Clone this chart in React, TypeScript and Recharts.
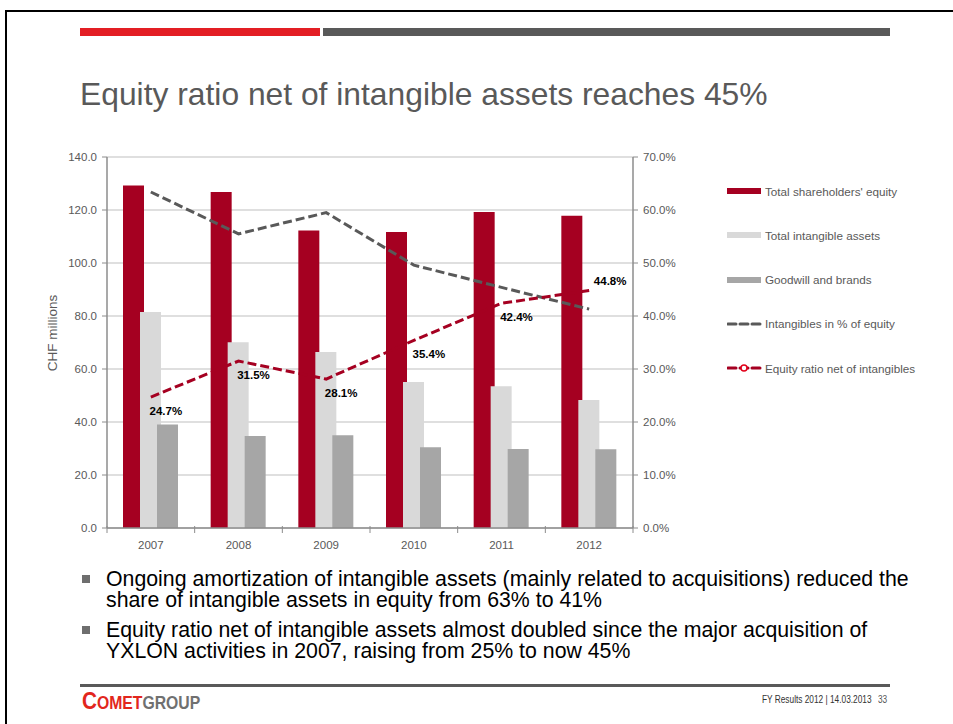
import React from "react"
import { ComposedChart, Bar, Line, XAxis, YAxis, CartesianGrid, LabelList } from "recharts"

const years = ["2007", "2008", "2009", "2010", "2011", "2012"]
const equity = [129.2, 126.8, 112.3, 111.7, 119.2, 117.8]
const intangibles = [81.5, 70.1, 66.4, 55.1, 53.5, 48.3]
const goodwill = [39.1, 34.7, 35.0, 30.5, 29.8, 29.7]
const intangPct = [63.4, 55.5, 59.5, 49.6, 45.4, 41.3]
const eqRatioNet = [24.7, 31.5, 28.1, 35.4, 42.4, 44.8]

const leftTicks = [0, 20, 40, 60, 80, 100, 120, 140]
const rightTicks = [0, 10, 20, 30, 40, 50, 60, 70]

const data = years.map((y, i) => ({
  year: y,
  equity: equity[i],
  intangibles: intangibles[i],
  goodwill: goodwill[i],
  intangPct: intangPct[i],
  eqRatioNet: eqRatioNet[i],
}))

const RED = "#A50021"
const LIGHT = "#D9D9D9"
const MID = "#A6A6A6"
const DARK = "#595959"
const AXIS = "#8C8C8C"
const FONT = "Arial, 'Liberation Sans', sans-serif"

function YearTick(props: any) {
  const { x, y, payload, index, visibleTicksCount, width } = props
  const half = payload.offset ?? width / visibleTicksCount / 2
  const axisY = y - 13
  return (
    <g>
      <line x1={x - half} x2={x - half} y1={axisY - 2} y2={axisY + 5} stroke={AXIS} />
      {index === visibleTicksCount - 1 && (
        <line x1={x + half} x2={x + half} y1={axisY - 2} y2={axisY + 5} stroke={AXIS} />
      )}
      <text x={x} y={y} dy="0.71em" textAnchor="middle" fill={DARK} fontSize={11.5} fontFamily={FONT}>
        {payload.value}
      </text>
    </g>
  )
}

function RatioLabel(props: any) {
  const { x, y, value, index } = props
  const last = index === years.length - 1
  return (
    <text
      x={x + (last ? 21 : 15)}
      y={y + (last ? -6 : 18)}
      textAnchor="middle"
      fontSize={11.5}
      fontWeight="bold"
      fontFamily={FONT}
      fill="#000"
    >
      {value.toFixed(1)}%
    </text>
  )
}

const legendItems = [
  { label: "Total shareholders' equity", kind: "bar", color: RED },
  { label: "Total intangible assets", kind: "bar", color: LIGHT },
  { label: "Goodwill and brands", kind: "bar", color: MID },
  { label: "Intangibles in % of equity", kind: "line", color: DARK },
  { label: "Equity ratio net of intangibles", kind: "marker", color: RED },
]

function LegendIcon({ kind, color }: { kind: string; color: string }) {
  return (
    <svg width={36} height={10} style={{ display: "block" }}>
      {kind === "bar" && <rect x={0} y={2} width={34} height={6} fill={color} />}
      {kind !== "bar" && (
        <line x1={1} x2={35} y1={5} y2={5} stroke={color} strokeWidth={3} strokeDasharray="8 4" strokeLinecap="round" />
      )}
      {kind === "marker" && <circle cx={17} cy={5} r={3} fill="#fff" stroke="#E2001A" strokeWidth={1.5} />}
    </svg>
  )
}

export default function App() {
  return (
    <div
      style={{
        position: "absolute",
        left: 0,
        top: 0,
        width: 953,
        height: 724,
        background: "#fff",
        overflow: "hidden",
        fontFamily: FONT,
      }}
    >
      <div
        style={{
          position: "absolute",
          left: 5,
          top: 10,
          width: 1000,
          height: 800,
          borderLeft: "2px solid #000",
          borderTop: "2px solid #000",
        }}
      />
      <div style={{ position: "absolute", left: 80, top: 28, width: 240, height: 8, background: "#E31E24" }} />
      <div style={{ position: "absolute", left: 323, top: 28, width: 567, height: 8, background: DARK }} />
      <div
        style={{
          position: "absolute",
          left: 80,
          top: 78,
          fontSize: 31.8,
          lineHeight: "32px",
          color: DARK,
          whiteSpace: "nowrap",
        }}
      >
        Equity ratio net of intangible assets reaches 45%
      </div>

      <div style={{ position: "absolute", left: 0, top: 0 }}>
        <ComposedChart
          width={953}
          height={724}
          data={data}
          margin={{ top: 157, right: 260, bottom: 166, left: 47 }}
          barSize={21}
          barGap={-4}
        >
          <CartesianGrid yAxisId="left" vertical={false} stroke="#BFBFBF" />
          <XAxis
            dataKey="year"
            height={30}
            interval={0}
            tickLine={false}
            tickSize={0}
            tickMargin={13}
            axisLine={{ stroke: AXIS, strokeWidth: 1.5 }}
            tick={<YearTick />}
          />
          <YAxis
            yAxisId="left"
            width={60}
            domain={[0, 140]}
            ticks={leftTicks}
            tickFormatter={(v: number) => v.toFixed(1)}
            tick={{ fill: DARK, fontSize: 11.5, fontFamily: FONT }}
            tickSize={5}
            tickMargin={5}
            axisLine={{ stroke: AXIS, strokeWidth: 1.5 }}
            tickLine={{ stroke: AXIS }}
          />
          <YAxis
            yAxisId="right"
            orientation="right"
            width={60}
            domain={[0, 70]}
            ticks={rightTicks}
            tickFormatter={(v: number) => v.toFixed(1) + "%"}
            tick={{ fill: DARK, fontSize: 11.5, fontFamily: FONT, textAnchor: "start" }}
            tickSize={5}
            tickMargin={5}
            axisLine={{ stroke: AXIS, strokeWidth: 1.5 }}
            tickLine={{ stroke: AXIS }}
          />
          <Bar yAxisId="left" dataKey="equity" fill={RED} isAnimationActive={false} />
          <Bar yAxisId="left" dataKey="intangibles" fill={LIGHT} isAnimationActive={false} />
          <Bar yAxisId="left" dataKey="goodwill" fill={MID} isAnimationActive={false} />
          <Line
            yAxisId="right"
            type="linear"
            dataKey="intangPct"
            stroke={DARK}
            strokeWidth={3}
            strokeDasharray="9 4"
            dot={false}
            activeDot={false}
            isAnimationActive={false}
          />
          <Line
            yAxisId="right"
            type="linear"
            dataKey="eqRatioNet"
            stroke={RED}
            strokeWidth={3}
            strokeDasharray="9 4"
            dot={false}
            activeDot={false}
            isAnimationActive={false}
          >
            <LabelList dataKey="eqRatioNet" content={<RatioLabel />} />
          </Line>
        </ComposedChart>
      </div>

      <div
        style={{
          position: "absolute",
          left: 52,
          top: 333,
          transform: "translate(-50%, -50%) rotate(-90deg)",
          fontSize: 13.5,
          color: DARK,
          whiteSpace: "nowrap",
        }}
      >
        CHF millions
      </div>

      {legendItems.map((it, i) => (
        <div
          key={it.label}
          style={{
            position: "absolute",
            left: 727,
            top: 191 + i * 44.3 - 7,
            height: 14,
            display: "flex",
            alignItems: "center",
            fontSize: 11.7,
            color: DARK,
            whiteSpace: "nowrap",
          }}
        >
          <LegendIcon kind={it.kind} color={it.color} />
          <span style={{ marginLeft: 2 }}>{it.label}</span>
        </div>
      ))}

      <div style={{ position: "absolute", left: 82, top: 575, width: 8, height: 8, background: "#6E6E6E" }} />
      <div style={{ position: "absolute", left: 82, top: 626, width: 8, height: 8, background: "#6E6E6E" }} />
      <div
        style={{
          position: "absolute",
          left: 106,
          top: 569,
          fontSize: 21.3,
          lineHeight: "21px",
          color: "#000",
          whiteSpace: "nowrap",
        }}
      >
        Ongoing amortization of intangible assets (mainly related to acquisitions) reduced the
        <br />
        share of intangible assets in equity from 63% to 41%
      </div>
      <div
        style={{
          position: "absolute",
          left: 106,
          top: 620,
          fontSize: 21.3,
          lineHeight: "21px",
          color: "#000",
          whiteSpace: "nowrap",
        }}
      >
        Equity ratio net of intangible assets almost doubled since the major acquisition of
        <br />
        YXLON activities in 2007, raising from 25% to now 45%
      </div>

      <div style={{ position: "absolute", left: 80, top: 684, width: 810, height: 3, background: DARK }} />
      <div
        style={{
          position: "absolute",
          left: 82,
          top: 690,
          fontWeight: "bold",
          whiteSpace: "nowrap",
          lineHeight: "22px",
          transform: "scaleX(0.9)",
          transformOrigin: "left center",
        }}
      >
        <span style={{ color: "#E2261C", fontSize: 23 }}>C</span>
        <span style={{ color: "#E2261C", fontSize: 17.5 }}>OMET</span>
        <span style={{ color: "#707070", fontSize: 17.5 }}>GROUP</span>
      </div>
      <div
        style={{
          position: "absolute",
          left: 762,
          top: 694,
          fontSize: 10,
          color: "#333",
          whiteSpace: "nowrap",
          transform: "scaleX(0.83)",
          transformOrigin: "left center",
        }}
      >
        FY Results 2012 | 14.03.2013
      </div>
      <div
        style={{
          position: "absolute",
          left: 878,
          top: 694,
          fontSize: 10,
          color: "#555",
          whiteSpace: "nowrap",
          transform: "scaleX(0.83)",
          transformOrigin: "left center",
        }}
      >
        33
      </div>
    </div>
  )
}
